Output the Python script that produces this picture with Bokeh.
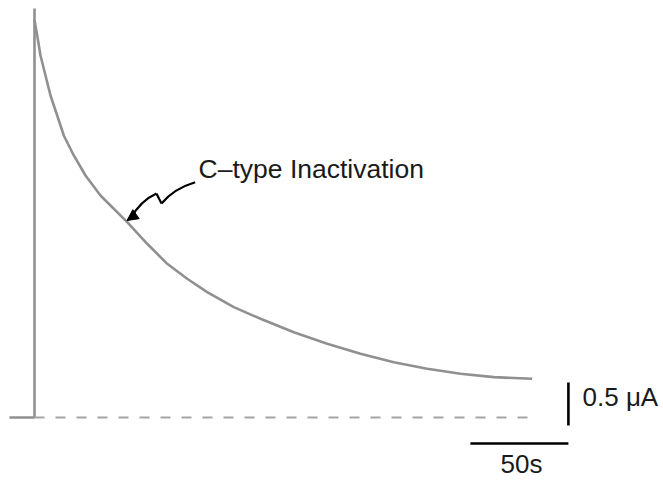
from bokeh.plotting import figure
from bokeh.models import Range1d, Arrow, NormalHead, Label
from bokeh.embed import file_html
from bokeh.resources import INLINE

# Data (time in s, current in uA)
time_s = [0.0, 1.38, 3.06, 5.61, 8.16, 11.58, 14.95, 20.05, 26.02, 33.67, 40.46,
          47.30, 57.50, 67.70, 77.91, 88.11, 101.68, 115.31, 132.30, 149.34,
          166.33, 183.32, 200.36, 217.35, 234.34, 253.93]
current_uA = [4.62, 4.442, 4.209, 3.977, 3.744, 3.512, 3.279, 3.047, 2.814, 2.581,
              2.427, 2.271, 2.020, 1.787, 1.613, 1.457, 1.283, 1.148, 0.992, 0.857,
              0.741, 0.643, 0.566, 0.508, 0.469, 0.450]
step_top = 4.756
baseline_start = -12.8
scale_time = 50     # s
scale_current = 0.5 # uA
label_text = "C\u2013type Inactivation"
scale_i_label = "0.5 \u03bcA"
scale_t_label = "50s"

W, H = 663, 481
p = figure(width=W, height=H, output_backend="svg", toolbar_location=None,
           x_range=Range1d(-34 / 1.96, (W - 34) / 1.96),
           y_range=Range1d(-(H - 417) / 86, 417 / 86),
           min_border=0)
p.axis.visible = False
p.grid.visible = False
p.outline_line_color = None
p.background_fill_color = "white"

gray = "#909093"
# step and trace
p.line([0, 0], [0, step_top], line_color=gray, line_width=2.6)
p.line([baseline_start, 0], [0, 0], line_color=gray, line_width=2.6)
p.line(time_s, current_uA, line_color=gray, line_width=2.6, line_join="round")
# zero baseline dashed
p.line([0, time_s[-1]], [0, 0], line_color="#a3a3a6", line_width=1.8, line_dash="10 11")

# scale bars
sx = 272.4
p.line([sx, sx], [-0.093, -0.093 + scale_current], line_color="black", line_width=2.6)
p.line([sx - scale_time, sx], [-0.302, -0.302], line_color="black", line_width=2.6)

font = "Liberation Sans"
p.add_layout(Label(x=279.6, y=0.236, text=scale_i_label, text_font=font,
                   text_font_size="26px", text_color="#1a1a1a", text_baseline="alphabetic"))
p.add_layout(Label(x=248.5, y=-0.546, text=scale_t_label, text_font=font,
                   text_font_size="26px", text_color="#1a1a1a", text_align="center",
                   text_baseline="alphabetic"))
p.add_layout(Label(x=83.7, y=2.884, text=label_text, text_font=font,
                   text_font_size="26.5px", text_color="#1a1a1a", text_baseline="alphabetic"))

# squiggly arrow
p.quadratic(x0=[82.0], y0=[2.735], x1=[64.8], y1=[2.488], cx=[71.0], cy=[2.66],
            line_color="black", line_width=2.2)
p.line([64.8, 62.2], [2.488, 2.605], line_color="black", line_width=2.2)
p.quadratic(x0=[62.2], y0=[2.605], x1=[49.0], y1=[2.315], cx=[54.1], cy=[2.52],
            line_color="black", line_width=2.2)
p.add_layout(Arrow(end=NormalHead(size=11, fill_color="black", line_color="black"),
                   x_start=51.5, y_start=2.36, x_end=47.2, y_end=2.29,
                   line_color="black", line_width=2.2))

open("out.html", "w").write(file_html(p, INLINE))
